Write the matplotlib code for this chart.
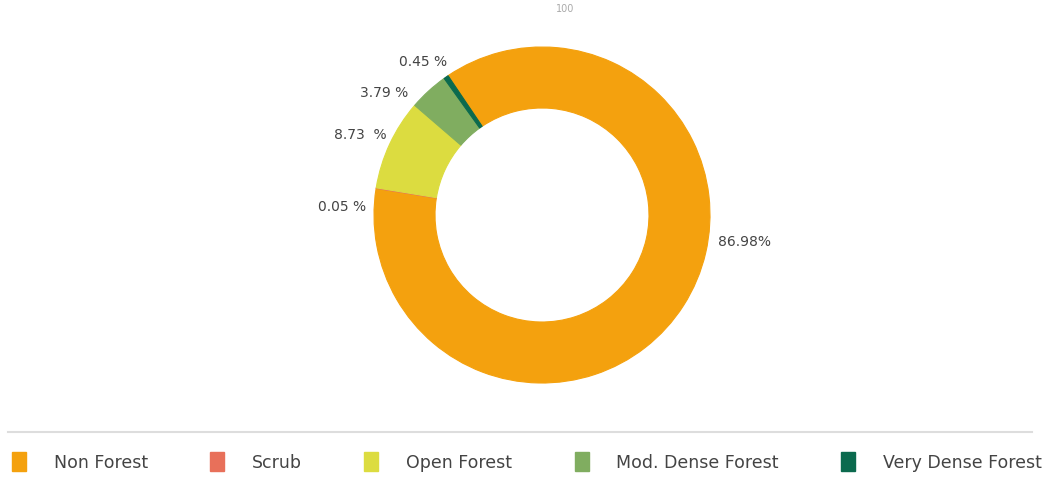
import matplotlib.pyplot as plt
from matplotlib.patches import Patch

# forest cover classes and their share of area (%)
categorias = ["Non Forest", "Scrub", "Open Forest", "Mod. Dense Forest", "Very Dense Forest"]
porcentajes = [86.98, 0.05, 8.73, 3.79, 0.45]
etiquetas = ["86.98%", "0.05 %", "8.73  %", "3.79 %", "0.45 %"]
colores = ["#F4A10E", "#E8705A", "#DCDC40", "#80AD60", "#0B6A4E"]

fig = plt.figure(figsize=(10.45, 4.9), dpi=100)
ax = fig.add_axes([0, 0, 1, 1])

# donut
wedges, _ = ax.pie(porcentajes, colors=colores, center=(542, 275), radius=168,
                   startangle=124, counterclock=False, frame=True,
                   wedgeprops=dict(width=61, linewidth=0.8))
for w, c in zip(wedges, colores):
    w.set_edgecolor(c)
ax.set_xlim(0, 1045)
ax.set_ylim(0, 490)
ax.axis("off")

# etiquetas de porcentaje alrededor del anillo
pos_etiquetas = [(718, 490 - 242, "left"), (366, 490 - 207, "right"),
                 (387, 490 - 135, "right"), (408, 490 - 93, "right"),
                 (447, 490 - 62, "right")]
for (x, y, ha), txt in zip(pos_etiquetas, etiquetas):
    ax.text(x, y, txt, ha=ha, va="center", fontsize=10, color="#444444")

ax.text(565, 490 - 12, "100", ha="center", va="baseline", fontsize=7, color="#aaaaaa")

# linea separadora y leyenda
ax.plot([8, 1032], [490 - 432, 490 - 432], color="#dddddd", lw=1.5)
handles = [Patch(facecolor=c, edgecolor=c) for c in colores]
leg = fig.legend(handles, categorias, loc="center left", bbox_to_anchor=(12 / 1045, 1 - 462 / 490),
                 ncol=5, frameon=False, fontsize=12.5, handlelength=0.8, handleheight=1.3,
                 handletextpad=1.6, columnspacing=3.6, borderaxespad=0, borderpad=0)
for t in leg.get_texts():
    t.set_color("#444444")

fig.savefig("out.png", dpi=100)
